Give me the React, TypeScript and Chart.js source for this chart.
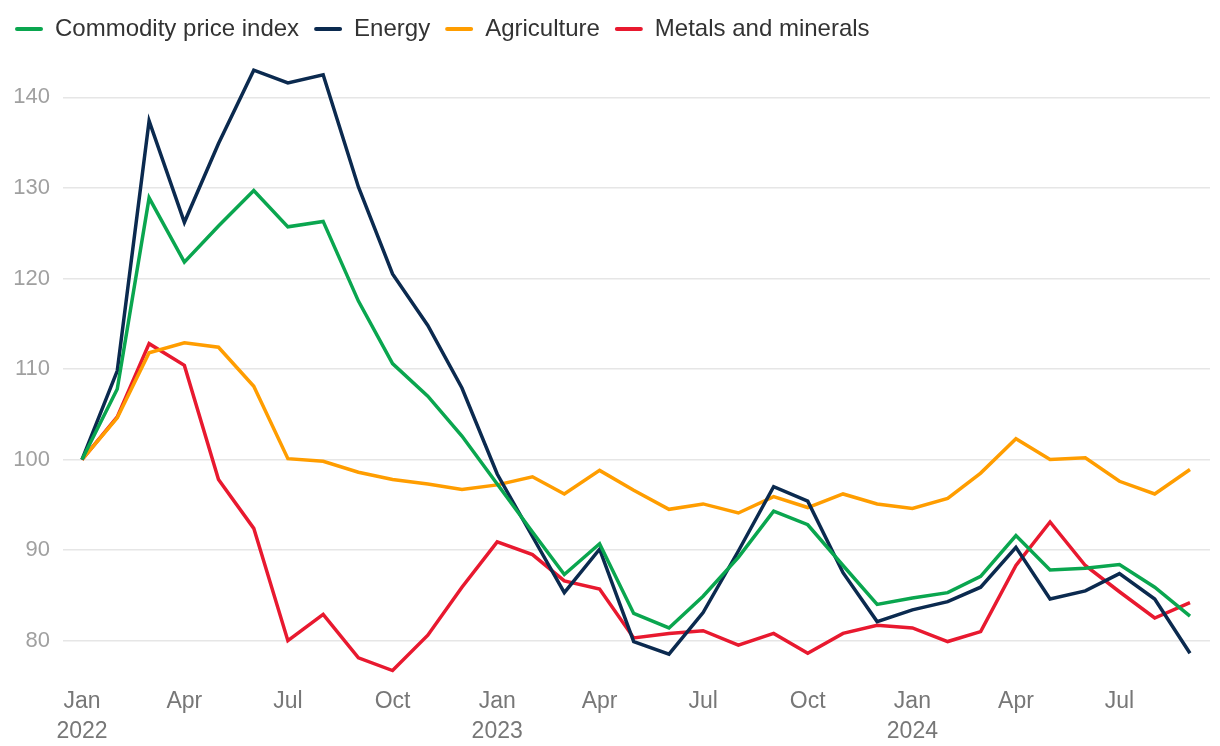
import React, { useEffect, useRef } from "react";
import { Chart, registerables } from "chart.js";

Chart.register(...registerables);

const months = [
  "2022-01", "2022-02", "2022-03", "2022-04", "2022-05", "2022-06", "2022-07", "2022-08", "2022-09", "2022-10", "2022-11", "2022-12",
  "2023-01", "2023-02", "2023-03", "2023-04", "2023-05", "2023-06", "2023-07", "2023-08", "2023-09", "2023-10", "2023-11", "2023-12",
  "2024-01", "2024-02", "2024-03", "2024-04", "2024-05", "2024-06", "2024-07", "2024-08", "2024-09",
];

const commodityIndex = [
  100, 107.8, 128.9, 121.8, 125.8, 129.7, 125.7, 126.3, 117.5, 110.6, 107.0, 102.6,
  97.3, 92.0, 87.3, 90.7, 83.0, 81.4, 84.9, 89.2, 94.3, 92.8, 88.3, 84.0,
  84.7, 85.3, 87.1, 91.6, 87.8, 88.0, 88.4, 85.9, 82.7,
];

const energy = [
  100, 109.8, 137.4, 126.2, 134.9, 143.0, 141.6, 142.5, 130.1, 120.5, 114.8, 107.9,
  98.4, 91.5, 85.3, 90.1, 79.9, 78.5, 83.1, 89.9, 97.0, 95.4, 87.5, 82.1,
  83.4, 84.3, 85.9, 90.3, 84.6, 85.5, 87.4, 84.6, 78.6,
];

const agriculture = [
  100, 104.6, 111.8, 112.9, 112.4, 108.1, 100.1, 99.8, 98.6, 97.8, 97.3, 96.7,
  97.2, 98.1, 96.2, 98.8, 96.6, 94.5, 95.1, 94.1, 95.9, 94.7, 96.2, 95.1,
  94.6, 95.7, 98.5, 102.3, 100.0, 100.2, 97.6, 96.2, 98.9,
];

const metalsMinerals = [
  100, 104.7, 112.8, 110.4, 97.8, 92.4, 80.0, 82.9, 78.1, 76.7, 80.6, 85.9,
  90.9, 89.5, 86.6, 85.7, 80.3, 80.8, 81.1, 79.5, 80.8, 78.6, 80.8, 81.7,
  81.4, 79.9, 81.0, 88.3, 93.1, 88.3, 85.4, 82.5, 84.2,
];

const seriesNames = ["Commodity price index", "Energy", "Agriculture", "Metals and minerals"];
const seriesColors = ["#0aa64f", "#0b2a4f", "#ff9d00", "#e8192f"];

const xTickMonths = [
  "2022-01", "2022-04", "2022-07", "2022-10",
  "2023-01", "2023-04", "2023-07", "2023-10",
  "2024-01", "2024-04", "2024-07",
];
const monthNames = ["Jan", "Feb", "Mar", "Apr", "May", "Jun", "Jul", "Aug", "Sep", "Oct", "Nov", "Dec"];
const yTicks = [80, 90, 100, 110, 120, 130, 140];

const FONT = "'Liberation Sans', Arial, Helvetica, sans-serif";

function dayOffset(ym: string): number {
  const [y, m] = ym.split("-").map(Number);
  return (Date.UTC(y, m - 1, 1) - Date.UTC(2022, 0, 1)) / 86400000;
}

export default function App() {
  const canvasRef = useRef<HTMLCanvasElement | null>(null);

  useEffect(() => {
    const canvas = canvasRef.current;
    if (!canvas) return;
    const xs = months.map(dayOffset);
    const all = [commodityIndex, energy, agriculture, metalsMinerals];
    const chart = new Chart(canvas, {
      type: "line",
      data: {
        datasets: all.map((vals, i) => ({
          label: seriesNames[i],
          data: vals.map((v, j) => ({ x: xs[j], y: v })),
          borderColor: seriesColors[i],
          backgroundColor: seriesColors[i],
          borderWidth: 3.5,
          pointRadius: 0,
          tension: 0,
          fill: false,
        })),
      },
      options: {
        animation: false,
        responsive: false,
        devicePixelRatio: 1,
        layout: { padding: { top: 2, right: 10, left: 0, bottom: -7 } },
        plugins: {
          tooltip: { enabled: false },
          legend: {
            position: "top",
            align: "start",
            labels: {
              boxWidth: 28,
              boxHeight: 4,
              padding: 15,
              color: "#333333",
              font: { size: 24, family: FONT },
              useBorderRadius: true,
              borderRadius: 2,
              generateLabels: (c: any) =>
                Chart.defaults.plugins.legend.labels
                  .generateLabels(c)
                  .map((l: any) => ({ ...l, lineWidth: 0 })),
            },
          },
        },
        scales: {
          x: {
            type: "linear",
            min: -16.7,
            max: dayOffset("2024-09") + 17.6,
            grid: { display: false, drawTicks: false },
            border: { display: false },
            afterBuildTicks: (scale: any) => {
              scale.ticks = xTickMonths.map((m) => ({ value: dayOffset(m) }));
            },
            ticks: {
              padding: 6,
              color: "#777777",
              maxRotation: 0,
              autoSkip: false,
              font: { size: 23, family: FONT, lineHeight: 1.3 },
              callback: (value: any) => {
                const m = xTickMonths.find((t) => dayOffset(t) === value);
                if (!m) return "";
                const [y, mo] = m.split("-").map(Number);
                const name = monthNames[mo - 1];
                return mo === 1 ? [name, String(y)] : name;
              },
            },
          },
          y: {
            type: "linear",
            min: 75.52,
            max: 145.12,
            afterFit: (scale: any) => {
              scale.width = 63;
            },
            afterBuildTicks: (scale: any) => {
              scale.ticks = yTicks.map((v) => ({ value: v }));
            },
            grid: { color: "#e6e6e6", lineWidth: 1.5, drawTicks: false },
            border: { display: false },
            ticks: {
              padding: 13,
              color: "#a0a0a0",
              font: { size: 22, family: FONT },
            },
          },
        },
      },
    } as any);
    return () => chart.destroy();
  }, []);

  return (
    <div style={{ position: "absolute", left: 0, top: 0, width: 1220, height: 746, background: "#ffffff" }}>
      <canvas ref={canvasRef} width={1220} height={746} style={{ display: "block" }} />
    </div>
  );
}
